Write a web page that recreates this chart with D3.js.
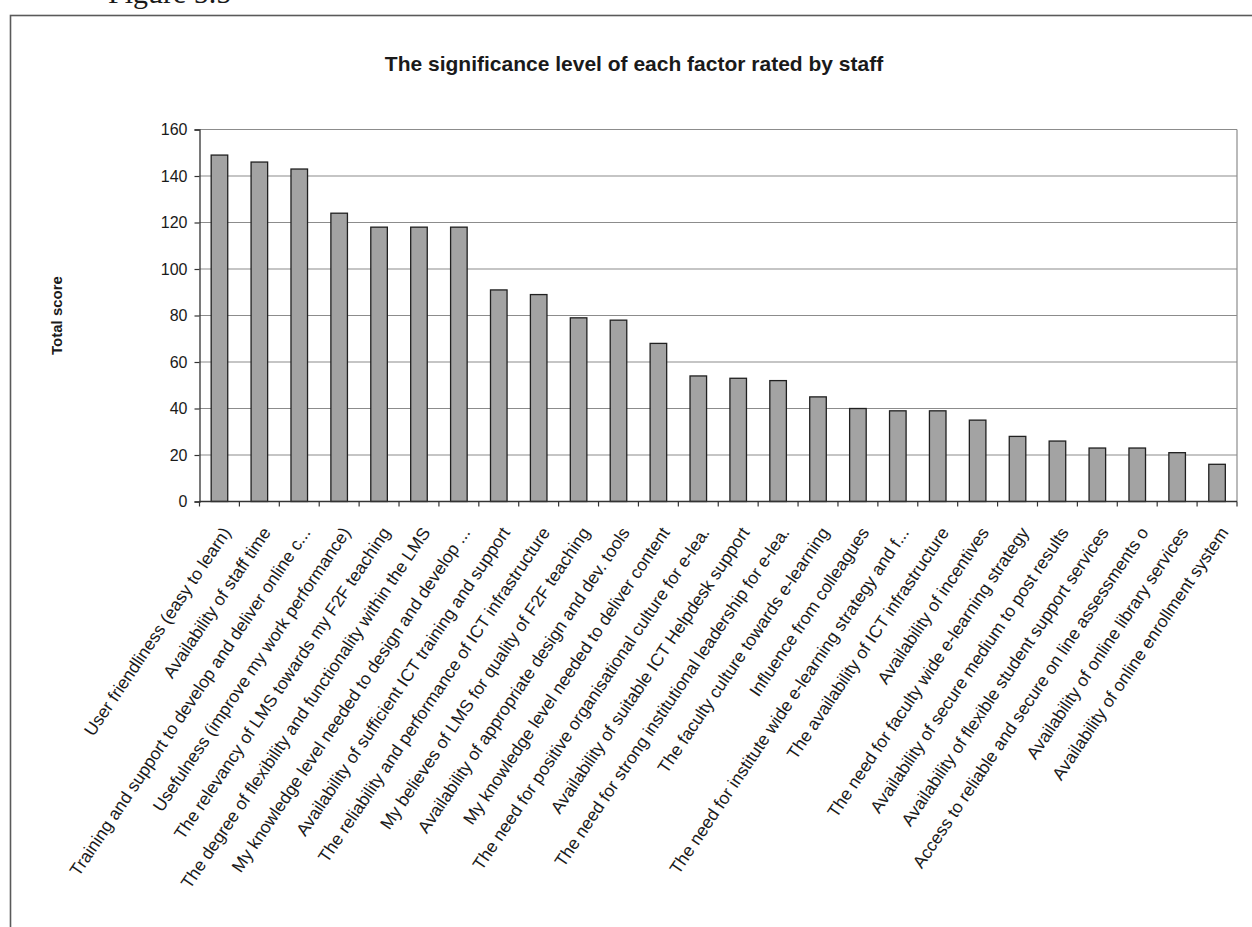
<!DOCTYPE html>
<html>
<head>
<meta charset="utf-8">
<script src="https://cdn.jsdelivr.net/npm/d3@7"></script>
<style>
  html, body { margin: 0; padding: 0; background: #fff; }
  svg { display: block; }
  text { font-family: "Liberation Sans", Arial, Helvetica, sans-serif; fill: #1a1a1a; }
</style>
</head>
<body>
<svg id="chart" width="1252" height="927"></svg>
<script>
// Factors rated by staff, in the order shown on the category axis
const categories = [
  "User friendliness (easy to learn)",
  "Availability of staff time",
  "Training and support to develop and deliver online c...",
  "Usefulness (improve my work performance)",
  "The relevancy of LMS towards my F2F teaching",
  "The degree of flexibility and functionality within the LMS",
  "My knowledge level needed to design and develop ...",
  "Availability of sufficient ICT training and support",
  "The reliability and performance of ICT infrastructure",
  "My believes of LMS for quality of F2F teaching",
  "Availability of appropriate design and dev. tools",
  "My knowledge level needed to deliver content",
  "The need for positive organisational culture for e-lea.",
  "Availability of suitable ICT Helpdesk support",
  "The need for strong institutional leadership for e-lea.",
  "The faculty culture towards e-learning",
  "Influence from colleagues",
  "The need for institute wide e-learning strategy and f...",
  "The availability of ICT infrastructure",
  "Availability of incentives",
  "The need for faculty wide e-learning strategy",
  "Availability of secure medium to post results",
  "Availability of flexible student support services",
  "Access to reliable and secure on line assessments o",
  "Availability of online library services",
  "Availability of online enrollment system"
];

// Total score for each factor
const totalScores = [149, 146, 143, 124, 118, 118, 118, 91, 89, 79, 78, 68, 54, 53, 52, 45, 40, 39, 39, 35, 28, 26, 23, 23, 21, 16];

// Value axis tick labels
const yTicks = [0, 20, 40, 60, 80, 100, 120, 140, 160];

const chartTitle = "The significance level of each factor rated by staff";
const yAxisTitle = "Total score";
const figureCaption = "Figure 5.5";

const svg = d3.select("#chart");

// Plot area bounds
const plot = { left: 199.5, right: 1237, top: 129.5, bottom: 501.5 };

const y = d3.scaleLinear()
  .domain([0, 160])
  .range([plot.bottom, plot.top]);

const x = d3.scaleBand()
  .domain(categories)
  .range([plot.left, plot.right])
  .paddingInner(0.585)
  .paddingOuter(0.2925);

// Category slots (no padding) give the tick mark positions between bars
const slot = d3.scaleBand()
  .domain(categories)
  .range([plot.left, plot.right])
  .padding(0);

// Caption above the chart frame, mostly cut off by the page top
svg.append("text")
  .attr("x", 108)
  .attr("y", 3)
  .style("font-family", "'Liberation Serif', 'Times New Roman', serif")
  .style("font-size", "30px")
  .text(figureCaption);

// Chart frame
svg.append("rect")
  .attr("x", 10.5)
  .attr("y", 15.5)
  .attr("width", 1300)
  .attr("height", 1000)
  .attr("fill", "none")
  .attr("stroke", "#5a5a5a")
  .attr("stroke-width", 1.6);

// Title
svg.append("text")
  .attr("x", 634)
  .attr("y", 71)
  .attr("text-anchor", "middle")
  .style("font-size", "21px")
  .style("font-weight", "bold")
  .text(chartTitle);

// Horizontal gridlines
svg.append("g")
  .selectAll("line")
  .data(yTicks.filter(d => d > 0))
  .join("line")
  .attr("x1", plot.left)
  .attr("x2", plot.right)
  .attr("y1", d => y(d))
  .attr("y2", d => y(d))
  .attr("stroke", "#8c8c8c")
  .attr("stroke-width", 1.2);

// Plot area right border
svg.append("line")
  .attr("x1", plot.right)
  .attr("x2", plot.right)
  .attr("y1", plot.top)
  .attr("y2", plot.bottom)
  .attr("stroke", "#8c8c8c")
  .attr("stroke-width", 1.2);

// Bars
svg.append("g")
  .selectAll("rect")
  .data(totalScores)
  .join("rect")
  .attr("x", (d, i) => x(categories[i]))
  .attr("y", d => y(d))
  .attr("width", x.bandwidth())
  .attr("height", d => y(0) - y(d))
  .attr("fill", "#a3a3a3")
  .attr("stroke", "#202020")
  .attr("stroke-width", 1.3);

// Value axis
const yAxis = svg.append("g")
  .attr("transform", `translate(${plot.left},0)`)
  .call(d3.axisLeft(y).tickValues(yTicks).tickSize(5).tickPadding(7).tickFormat(d3.format("d")));
yAxis.select(".domain").attr("stroke", "#333").attr("stroke-width", 1.3);
yAxis.selectAll(".tick line").attr("stroke", "#333").attr("stroke-width", 1.2);
yAxis.selectAll(".tick text")
  .style("font-size", "16px")
  .style("font-family", "'Liberation Sans', Arial, sans-serif")
  .attr("fill", "#1a1a1a");

// Category axis line and tick marks between categories
const xAxis = svg.append("g");
xAxis.append("line")
  .attr("x1", plot.left)
  .attr("x2", plot.right)
  .attr("y1", y(0))
  .attr("y2", y(0))
  .attr("stroke", "#333")
  .attr("stroke-width", 1.3);
xAxis.selectAll("line.tick")
  .data(d3.range(categories.length + 1))
  .join("line")
  .attr("class", "tick")
  .attr("x1", i => plot.left + i * slot.step())
  .attr("x2", i => plot.left + i * slot.step())
  .attr("y1", y(0))
  .attr("y2", y(0) + 5)
  .attr("stroke", "#333")
  .attr("stroke-width", 1.2);

// Rotated category labels
xAxis.selectAll("text")
  .data(categories)
  .join("text")
  .attr("text-anchor", "end")
  .attr("transform", d => `translate(${x(d) + x.bandwidth() / 2 + 12},${y(0) + 31}) rotate(-56)`)
  .style("font-size", "17.5px")
  .text(d => d);

// Value axis title
svg.append("text")
  .attr("transform", `translate(62,${(plot.top + plot.bottom) / 2}) rotate(-90)`)
  .attr("text-anchor", "middle")
  .style("font-size", "15px")
  .style("font-weight", "bold")
  .text(yAxisTitle);
</script>
</body>
</html>
